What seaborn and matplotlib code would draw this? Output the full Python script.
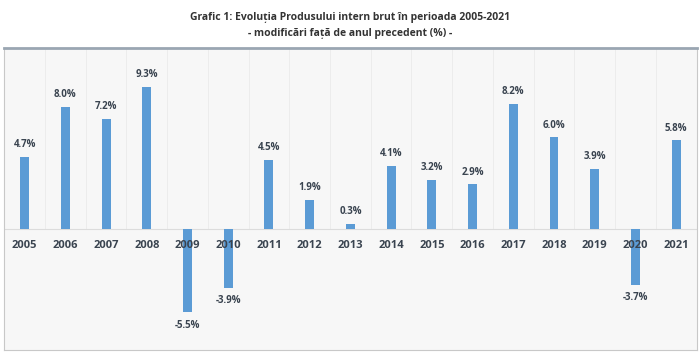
import numpy as np
import pandas as pd
import matplotlib.pyplot as plt
import seaborn as sns

# date
years = ['2005', '2006', '2007', '2008', '2009', '2010', '2011', '2012', '2013',
         '2014', '2015', '2016', '2017', '2018', '2019', '2020', '2021']
growth = [4.7, 8.0, 7.2, 9.3, -5.5, -3.9, 4.5, 1.9, 0.3,
          4.1, 3.2, 2.9, 8.2, 6.0, 3.9, -3.7, 5.8]

df = pd.DataFrame({'an': years, 'pib': growth})

sns.set_style('white')
plt.rcParams['font.family'] = ['Open Sans', 'DejaVu Sans']

fig = plt.figure(figsize=(7, 3.53), dpi=100)
ax = fig.add_axes([0.005, 0.008, 0.99, 0.857])

sns.barplot(data=df, x='an', y='pib', color='#5b9bd5', saturation=1,
            width=0.22, linewidth=0, ax=ax)

ax.set_facecolor('#f7f7f7')
ax.set_xlim(-0.52, 16.5)
ax.set_ylim(-8.0, 11.9)

# linii fine intre categorii si axa zero
for i in range(16):
    ax.plot([i + 0.5, i + 0.5], [0, 11.9], color='#ebebeb', lw=0.6, zorder=0)
ax.axhline(0, color='#dcdcdc', lw=0.8, zorder=0)

# etichete
txt_col = '#3a4450'
for i, v in enumerate(growth):
    if v >= 0:
        ax.text(i, v + 0.45, f'{v:.1f}%', ha='center', va='bottom',
                fontsize=7, fontweight='bold', color=txt_col)
    else:
        ax.text(i, v - 0.5, f'{v:.1f}%', ha='center', va='top',
                fontsize=7, fontweight='bold', color=txt_col)
    ax.text(i, -0.72, years[i], ha='center', va='top',
            fontsize=8, fontweight='bold', color=txt_col)

ax.set_xticks([])
ax.set_yticks([])
ax.set_xlabel('')
ax.set_ylabel('')
for s in ax.spines.values():
    s.set_color('#c8c8c8')
    s.set_linewidth(0.8)
ax.spines['top'].set_color('#9aa6b2')
ax.spines['top'].set_linewidth(2)

fig.text(0.5, 0.95, 'Grafic 1: Evoluția Produsului intern brut în perioada 2005-2021',
         ha='center', va='center', fontsize=7.5, fontweight='bold', color='#333333')
fig.text(0.5, 0.905, '- modificări față de anul precedent (%) -',
         ha='center', va='center', fontsize=7.5, fontweight='bold', color='#333333')

fig.savefig('out.png', dpi=100, facecolor='white')
